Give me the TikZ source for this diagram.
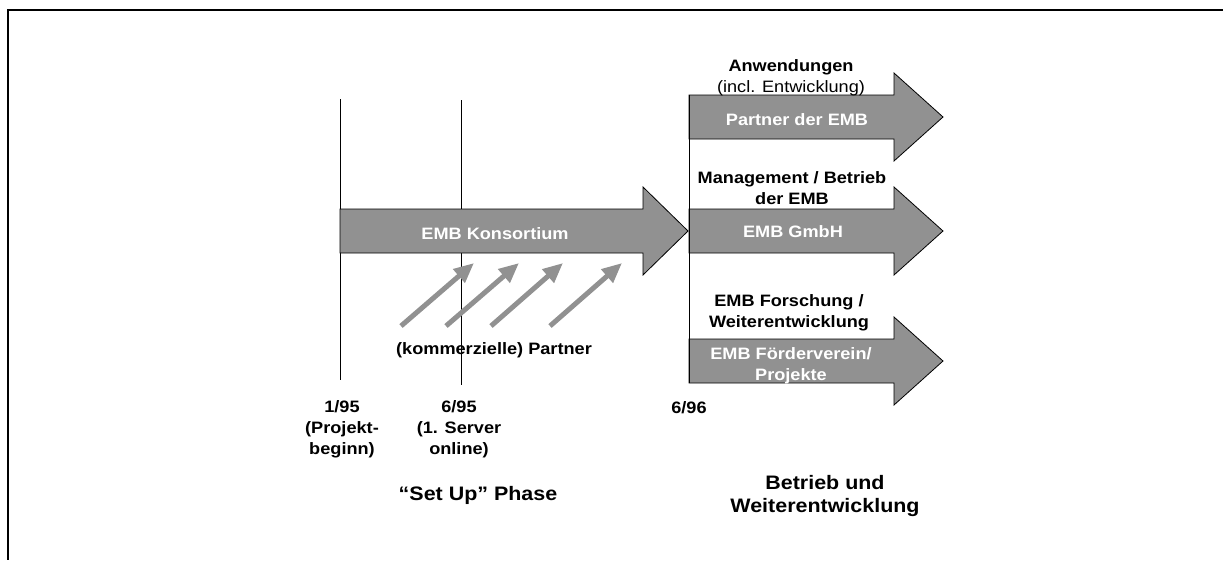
\documentclass[tikz,border=0pt]{standalone}
\usepackage{fontspec}
\setmainfont{Liberation Sans}[FakeStretch=1.1]
\usetikzlibrary{arrows.meta}

\definecolor{embgray}{RGB}{145,145,145}

% broad block arrow: start x, centre y, head x, tip x
\newcommand{\emboarrow}[4]{%
  \draw[block] (#1,#2-22) -- (#3,#2-22) -- (#3,#2-44) -- (#4,#2)
    -- (#3,#2+44) -- (#3,#2+22) -- (#1,#2+22) -- cycle;}

\tikzset{
  lbl/.style={font=\fontsize{16.5}{21}\selectfont\bfseries, align=center, inner sep=0pt},
  inlbl/.style={lbl, text=white},
  phase/.style={font=\fontsize{19.5}{23}\selectfont\bfseries, align=center, inner sep=0pt},
  partner/.style={draw=embgray, line width=5pt, -{Triangle[length=20pt,width=17pt]}},
  block/.style={draw=black, line width=0.8pt, fill=embgray},
}

\begin{document}
\begin{tikzpicture}[x=1pt, y=-1pt]
  \useasboundingbox (0,0) rectangle (1223,560);
  \draw[line width=2pt] (1223,10) -- (8.3,10) -- (8.3,560);

  % time lines
  \coordinate (t195) at (340,99);
  \coordinate (b195) at (340,380);
  \coordinate (t695) at (461,100);
  \coordinate (b695) at (461,385);
  \draw[line width=0.8pt] (t195) -- (b195);
  \draw[line width=0.8pt] (t695) -- (b695);

  % set up phase
  \emboarrow{340}{231}{643}{688}
  \node[inlbl] (kons) at (495, 234) {EMB Konsortium};

  \coordinate (p1s) at (401,326);
  \coordinate (p1e) at (474,263);
  \coordinate (p2s) at (446,326);
  \coordinate (p2e) at (519,263);
  \coordinate (p3s) at (491,326);
  \coordinate (p3e) at (563,263);
  \coordinate (p4s) at (550,326);
  \coordinate (p4e) at (622,263);
  \draw[partner] (p1s) -- (p1e);
  \draw[partner] (p2s) -- (p2e);
  \draw[partner] (p3s) -- (p3e);
  \draw[partner] (p4s) -- (p4e);

  \node[lbl] (partner) at (494, 350) {(kommerzielle) Partner};

  % betrieb
  \emboarrow{689}{117}{894}{943}
  \emboarrow{689}{231}{894}{943}
  \emboarrow{689}{361}{894}{943}
  \coordinate (t696) at (689,95);
  \coordinate (b696) at (689,383);
  \draw[line width=0.8pt] (t696) -- (b696);

  \node[lbl] (anw) at (791, 78) {Anwendungen\\\mdseries(incl. Entwicklung)};
  \node[inlbl] (pemb) at (797, 120) {Partner der EMB};
  \node[lbl] (mgmt) at (792, 188) {Management / Betrieb\\der EMB};
  \node[inlbl] (gmbh) at (793, 232) {EMB GmbH};
  \node[lbl] (forsch) at (789, 313) {EMB Forschung /\\Weiterentwicklung};
  \node[inlbl] (foerd) at (791, 366) {EMB Förderverein/\\Projekte};

  % dates
  \node[lbl] (d195) at (342, 429) {1/95\\(Projekt-\\beginn)};
  \node[lbl] (d695) at (459, 429) {6/95\\(1. Server\\online)};
  \node[lbl] (d696) at (689, 408) {6/96};

  \node[phase] (setup) at (478, 495) {“Set Up” Phase};
  \node[phase] (betr) at (825, 496) {Betrieb und\\Weiterentwicklung};
\end{tikzpicture}
\end{document}
